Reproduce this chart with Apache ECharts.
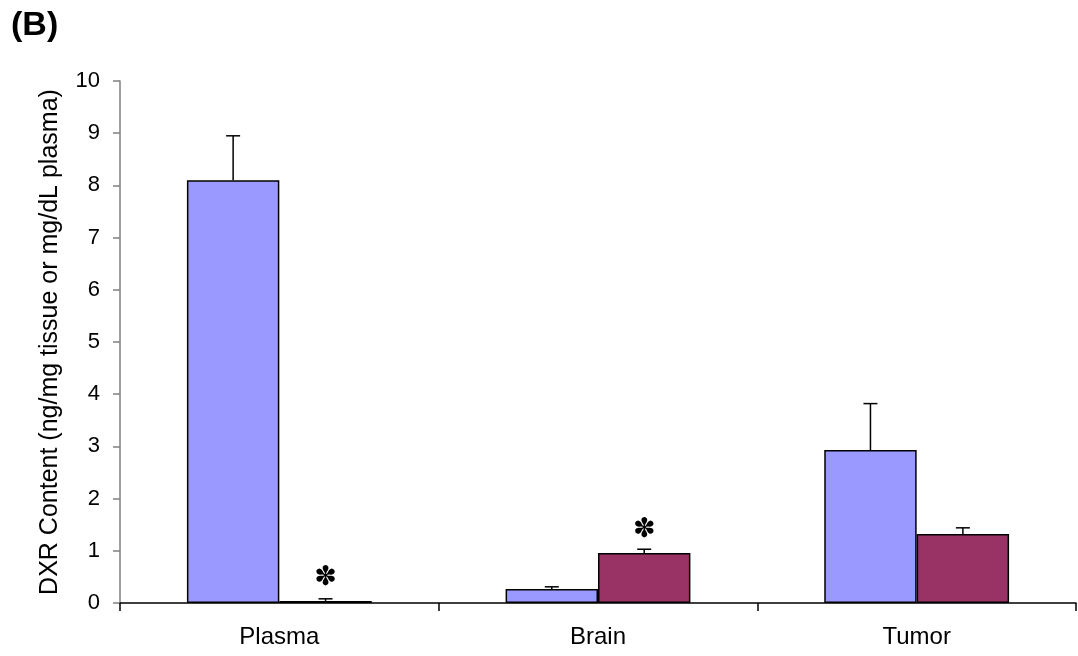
<!DOCTYPE html>
<html>
<head>
<meta charset="utf-8">
<script src="https://cdn.jsdelivr.net/npm/echarts@6/dist/echarts.min.js"></script>
<style>
  html, body { margin: 0; padding: 0; background: #fff; }
  #mychart { width: 1078px; height: 656px; }
</style>
</head>
<body>
<div id="mychart"></div>
<script>
// data
const categories = ['Plasma', 'Brain', 'Tumor'];
const blueValues = [8.1, 0.27, 2.93];
const blueErrors = [0.85, 0.04, 0.89];
const redValues = [0.04, 0.96, 1.32];
const redErrors = [0.04, 0.07, 0.12];
// significance marks: [category index, y value]
const starMarks = [[0, 0.48], [1, 1.4]];
const yTicks = [0, 1, 2, 3, 4, 5, 6, 7, 8, 9, 10];

const GAP = 0.42; // barCategoryGap

function errorSeries(values, errors, side) {
  return {
    type: 'custom',
    z: 5,
    data: values.map((v, i) => [i, v, v + errors[i]]),
    renderItem: function (params, api) {
      const band = api.size([1, 0])[0];
      const bw = band * (1 - GAP) / 2;
      const base = api.coord([api.value(0), api.value(1)]);
      const top = api.coord([api.value(0), api.value(2)]);
      const x = base[0] + side * bw / 2;
      const cap = 7;
      return {
        type: 'group',
        children: [
          { type: 'line', shape: { x1: x, y1: base[1], x2: x, y2: top[1] }, style: { stroke: '#000', lineWidth: 1.5 } },
          { type: 'line', shape: { x1: x - cap, y1: top[1], x2: x + cap, y2: top[1] }, style: { stroke: '#000', lineWidth: 1.5 } }
        ]
      };
    }
  };
}

const myChart = echarts.init(document.getElementById('mychart'));
const option = {
  animation: false,
  backgroundColor: '#fff',
  title: {
    text: '(B)',
    left: 6,
    top: 4,
    textStyle: { fontFamily: 'Liberation Sans', fontWeight: 'bold', fontSize: 34, color: '#000' }
  },
  grid: { left: 120, right: 2, top: 81, bottom: 53 },
  xAxis: {
    type: 'category',
    data: categories,
    axisLine: { lineStyle: { color: '#000', width: 1.5 } },
    axisTick: { show: true, alignWithLabel: false, length: 8, lineStyle: { color: '#000', width: 1.5 } },
    axisLabel: { color: '#000', fontFamily: 'Liberation Sans', fontSize: 24, margin: 22 }
  },
  yAxis: {
    type: 'value',
    min: yTicks[0],
    max: yTicks[yTicks.length - 1],
    interval: 1,
    name: 'DXR Content (ng/mg tissue or mg/dL plasma)',
    nameLocation: 'middle',
    nameGap: 57,
    nameMoveOverlap: false,
    nameTextStyle: { color: '#000', fontFamily: 'Liberation Sans', fontSize: 25 },
    axisLine: { show: true, lineStyle: { color: '#808080', width: 1.5 } },
    axisTick: { show: true, length: 7, lineStyle: { color: '#808080', width: 1.5 } },
    axisLabel: { color: '#000', fontFamily: 'Liberation Sans', fontSize: 22, margin: 20 },
    splitLine: { show: false }
  },
  series: [
    {
      type: 'bar',
      data: blueValues,
      barGap: '0%',
      barCategoryGap: (GAP * 100) + '%',
      itemStyle: { color: '#9999FF', borderColor: '#000', borderWidth: 1.5 }
    },
    {
      type: 'bar',
      data: redValues,
      itemStyle: { color: '#993366', borderColor: '#000', borderWidth: 1.5 }
    },
    errorSeries(blueValues, blueErrors, -1),
    errorSeries(redValues, redErrors, 1),
    {
      type: 'custom',
      z: 6,
      data: starMarks,
      renderItem: function (params, api) {
        const band = api.size([1, 0])[0];
        const bw = band * (1 - GAP) / 2;
        const p = api.coord([api.value(0), api.value(1)]);
        return {
          type: 'text',
          style: {
            x: p[0] + bw / 2,
            y: p[1],
            text: '✽',
            fontSize: 27,
            fontFamily: 'DejaVu Sans',
            fill: '#000',
            align: 'center',
            verticalAlign: 'middle'
          }
        };
      }
    }
  ]
};
myChart.setOption(option);
</script>
</body>
</html>
